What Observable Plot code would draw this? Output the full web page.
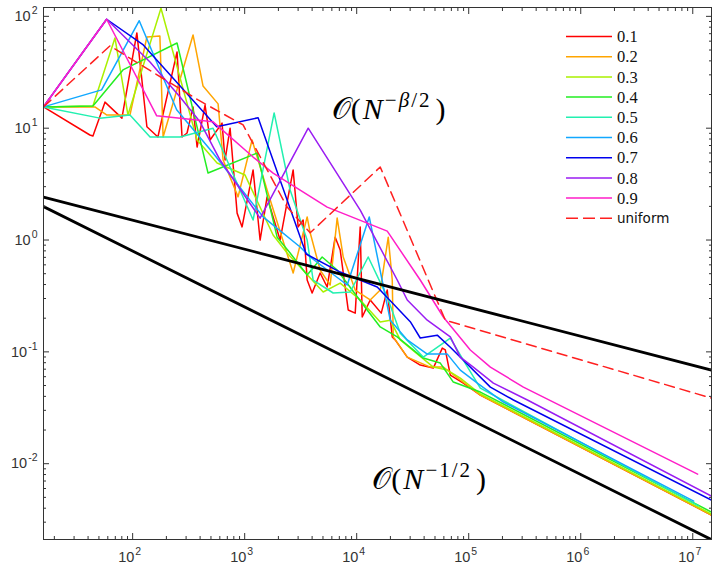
<!DOCTYPE html>
<html><head><meta charset="utf-8">
<script src="https://cdn.jsdelivr.net/npm/d3@7"></script>
<script src="https://cdn.jsdelivr.net/npm/@observablehq/plot@0.6"></script>
<style>body{margin:0;background:#fff}#chart{width:715px;height:566px}</style>
</head><body><div id="chart"></div>
<script>
// ---- data ----
const seriesLabels = ["0.1","0.2","0.3","0.4","0.5","0.6","0.7","0.8","0.9","uniform"];
const seriesColors = ["#ff0000","#ffa500","#aaf000","#22ee22","#22f0b0","#11a8ff","#0000ee","#9a1cf2","#ff1ec8","#ff2020"];

const N01 = [16,41.5,44.2,56.6,80.2,109,134,168,249,276,306,346,376,443,491,628,668,741,856,948,1189,1373,1585,2071,2709,3002,3328,3612,4001,4718,5450,6424,7124,8399,9700,10750,11200,13200,16560,18740,20770,22080,28270,36920,48290,58100,61800,68520,89480,127000,14730000];
const E01 = [15.5,8.69,8.51,17.1,12.3,71.1,10.3,8.34,48.1,8.34,9.06,15.5,6.79,16.1,7.84,11.1,5.19,10.0,1.74,1.31,4.23,1.00,2.43,1.00,4.23,1.31,1.51,0.439,0.336,0.507,0.380,1.06,0.814,0.237,0.222,1.31,0.205,0.291,0.222,0.357,0.136,0.128,0.0898,0.0762,0.0716,0.108,0.104,0.0620,0.0526,0.0411,0.00347];

const N02 = [16,46.0,58.9,94.6,134,175,187,346,425,579,642,873,1164,1585,2709,3612,3843,4718,5797,6693,7580,9700,13200,16220,19130,20770,21200,28270,45370,59320,84100,127000,14730000];
const E02 = [15.5,15.5,13.1,13.1,65.4,66.8,8.34,68.2,23.8,16.5,5.19,2.43,7.84,2.80,0.507,1.61,1.16,0.539,0.396,1.57,0.705,0.357,0.291,0.357,1.06,0.439,0.136,0.0898,0.0731,0.0731,0.0560,0.0411,0.00347];

const N03 = [16,44.2,69.5,90.8,179,376,567,1008,1794,2393,3127,5021,7124,10750,16220,19930,24490,48290,64400,84100,127000,14730000];
const E03 = [15.5,15.8,64.1,13.1,118,7.84,4.88,3.81,1.11,0.765,0.573,0.343,0.412,0.291,0.185,0.192,0.128,0.0731,0.0687,0.0583,0.0420,0.00354];

const N04 = [16,44.2,81.9,249,471,1291,1948,2545,3612,4918,6693,12410,16220,23010,39280,55750,72850,127000,14730000];
const E04 = [15.5,15.8,33.2,57.8,3.97,6.00,1.06,0.765,0.486,0.705,0.539,0.237,0.167,0.136,0.0880,0.0794,0.0537,0.0437,0.00369];

const N05 = [16,51.0,94.6,143,265,522,1189,1832,2545,3612,4084,6166,8750,12670,18740,24490,39280,68520,89480,127000,11280000];
const E05 = [15.5,12.3,13.1,8.34,8.34,10.0,1.51,13.7,2.80,1.00,0.439,0.336,0.343,0.705,0.309,0.147,0.0898,0.133,0.0845,0.0474,0.0042];

const N06 = [16,52.8,114.5,247,522,1460,3127,3843,8228,12940,19930,28270,42650,64400,84100,119400,204000,10190000];
const E06 = [15.5,22.0,91.5,14.6,6.00,1.61,0.866,0.705,0.396,1.61,0.192,0.128,0.0955,0.0955,0.0687,0.0526,0.0356,0.00463];

const N07 = [16,58.6,124.4,563,1318,3540,7124,15250,30080,36920,52380,68520,156100,250700,14730000];
const E07 = [15.5,94.2,55.5,10.3,12.4,0.750,0.517,0.380,0.186,0.133,0.141,0.110,0.0484,0.0371,0.00472];

const N08 = [16,58.6,142.8,264.8,399,603,1373,3690,10750,23010,28270,42650,68520,84100,109900,166000,334000,14730000];
const E08 = [15.5,94.2,39.1,19.0,11.4,5.19,1.57,10.0,1.85,0.439,0.291,0.192,0.136,0.0898,0.0731,0.0526,0.0371,0.00513];

const N09 = [16,58.6,164,522,1189,1794,3127,5450,18740,36920,59320,103300,156100,307600,11050000];
const E09 = [15.5,94.2,12.9,11.4,5.52,3.97,2.80,1.97,1.20,0.439,0.205,0.104,0.0731,0.0484,0.00807];

const NUni = [16,62.7,384,443,968,2393,3843,16220,61800,14730000];
const EUni = [15.5,54.4,17.9,16.5,10.7,1.97,1.16,4.50,0.192,0.0386];

// reference slopes (black lines)
const refN = [16, 14730000];
const refBeta = [2.42, 0.0686];   // O(N^{-beta/2})
const refHalf = [1.99, 0.00209];  // O(N^{-1/2})

// axes
const xMajorTicks = [1e2, 1e3, 1e4, 1e5, 1e6, 1e7];
const yMajorTicks = [1e-2, 1e-1, 1e0, 1e1, 1e2];
const xExponents = [2, 3, 4, 5, 6, 7];
const yExponents = [-2, -1, 0, 1, 2];

// annotations
const annoText = ["\u{1D4AA}(N^{\u2212\u03B2/2})", "\u{1D4AA}(N^{\u22121/2})"];
const annoN = [6000, 13800];
const annoV = [14.8, 0.0072];

// ---- build ----
const xDomain = [16, 1.47e7];
const yDomain = [0.0021, 120];
function minorTicks(domain) {
  const out = [];
  for (let e = -4; e <= 8; e++) for (let m = 2; m <= 9; m++) {
    const v = m * Math.pow(10, e);
    if (v >= domain[0] && v <= domain[1]) out.push(v);
  }
  return out;
}
const xMinor = minorTicks(xDomain), yMinor = minorTicks(yDomain);
const rows = (N, V) => N.map((n, i) => ({N: n, v: V[i]}));
const seriesData = [[N01,E01],[N02,E02],[N03,E03],[N04,E04],[N05,E05],[N06,E06],[N07,E07],[N08,E08],[N09,E09],[NUni,EUni]];

const axisColor = "#333";
const noText = () => "";

const marks = [];
seriesData.forEach(([N, V], i) => {
  marks.push(Plot.line(rows(N, V), {
    x: "N", y: "v", stroke: seriesColors[i], strokeWidth: 1.5,
    strokeDasharray: seriesLabels[i] === "uniform" ? "10,6" : null, clip: true
  }));
});
marks.push(Plot.line(rows(refN, refBeta), {x: "N", y: "v", stroke: "black", strokeWidth: 2.8, clip: true}));
marks.push(Plot.line(rows(refN, refHalf), {x: "N", y: "v", stroke: "black", strokeWidth: 2.8, clip: true}));
marks.push(Plot.text(annoText.map((t, i) => ({t, N: annoN[i], v: annoV[i]})), {
  x: "N", y: "v", text: "t", textAnchor: "start", fontSize: 30,
  fontFamily: "'Liberation Serif','DejaVu Serif',serif", fill: "black"
}));
// frame + ticks (inward, MATLAB style)
marks.push(Plot.frame({stroke: axisColor, strokeWidth: 1}));
marks.push(Plot.axisX(xMajorTicks, {anchor: "bottom", tickSize: 6, dy: -6, tickFormat: noText, label: null, stroke: axisColor}));
marks.push(Plot.axisX(xMajorTicks, {anchor: "top", tickSize: 6, dy: 6, tickFormat: noText, label: null, stroke: axisColor}));
marks.push(Plot.axisX(xMinor, {anchor: "bottom", tickSize: 3, dy: -3, tickFormat: noText, label: null, stroke: axisColor}));
marks.push(Plot.axisX(xMinor, {anchor: "top", tickSize: 3, dy: 3, tickFormat: noText, label: null, stroke: axisColor}));
marks.push(Plot.axisY(yMajorTicks, {anchor: "left", tickSize: 6, dx: 6, tickFormat: noText, label: null, stroke: axisColor}));
marks.push(Plot.axisY(yMajorTicks, {anchor: "right", tickSize: 6, dx: -6, tickFormat: noText, label: null, stroke: axisColor}));
marks.push(Plot.axisY(yMinor, {anchor: "left", tickSize: 3, dx: 3, tickFormat: noText, label: null, stroke: axisColor}));
marks.push(Plot.axisY(yMinor, {anchor: "right", tickSize: 3, dx: -3, tickFormat: noText, label: null, stroke: axisColor}));
// labels
marks.push(Plot.axisX(xMajorTicks, {anchor: "bottom", tickSize: 0, tickPadding: 12, dx: -3, label: null,
  tickFormat: (d) => "10^" + xExponents[xMajorTicks.indexOf(d)], fill: axisColor}));
marks.push(Plot.axisY(yMajorTicks, {anchor: "left", tickSize: 0, tickPadding: 6, label: null,
  tickFormat: (d) => "10^" + yExponents[yMajorTicks.indexOf(d)], fill: axisColor}));

const plot = Plot.plot({
  width: 715, height: 566,
  marginLeft: 43, marginRight: 4, marginTop: 7, marginBottom: 27,
  x: {type: "log", domain: xDomain},
  y: {type: "log", domain: yDomain},
  style: {fontFamily: "'Liberation Sans', Arial, sans-serif", fontSize: "14.5px", color: axisColor, background: "white"},
  marks
});

const svg = d3.select(plot);
// rich text: superscripts
svg.selectAll("text").each(function() {
  const t = this.textContent;
  const sel = d3.select(this);
  let m = /^(.*?)([A-Za-z])\^\{(.+)\}(.*)$/.exec(t);
  if (m) {
    sel.text(null);
    sel.append("tspan").text(m[1]);
    sel.append("tspan").attr("font-style", "italic").attr("dx", 2).text(m[2]);
    const sup = sel.append("tspan").attr("font-size", "21px").attr("dx", 4).attr("dy", -12);
    for (const ch of m[3]) {
      sup.append("tspan").attr("dx", 2).attr("font-style", ch === "\u03B2" ? "italic" : null).text(ch);
    }
    sel.append("tspan").attr("dx", 6).attr("dy", 12).text(m[4]);
    return;
  }
  m = /^10\^(-?\d+)$/.exec(t);
  if (m) {
    sel.text(null);
    sel.append("tspan").text("10");
    sel.append("tspan").attr("font-size", "10.5px").attr("dx", 1).attr("dy", -7).text(m[1]);
  }
});

// legend (inside upper right)
const lg = svg.append("g").attr("class", "legend").attr("text-anchor", "start");
seriesLabels.forEach((lab, i) => {
  const y = 36.5 + i * 20.2;
  lg.append("line").attr("x1", 566).attr("x2", 612).attr("y1", y).attr("y2", y)
    .attr("stroke", seriesColors[i]).attr("stroke-width", 1.5)
    .attr("stroke-dasharray", lab === "uniform" ? "12,5" : null);
  lg.append("text").attr("x", 617).attr("y", y).attr("dy", "0.35em").attr("text-anchor", "start")
    .attr("font-family", lab === "uniform" ? "'DejaVu Sans',sans-serif" : "'Liberation Serif',serif")
    .attr("font-size", lab === "uniform" ? 13.5 : 16.5).attr("fill", "#111").text(lab);
});

document.getElementById("chart").appendChild(plot);
</script>
</body></html>
